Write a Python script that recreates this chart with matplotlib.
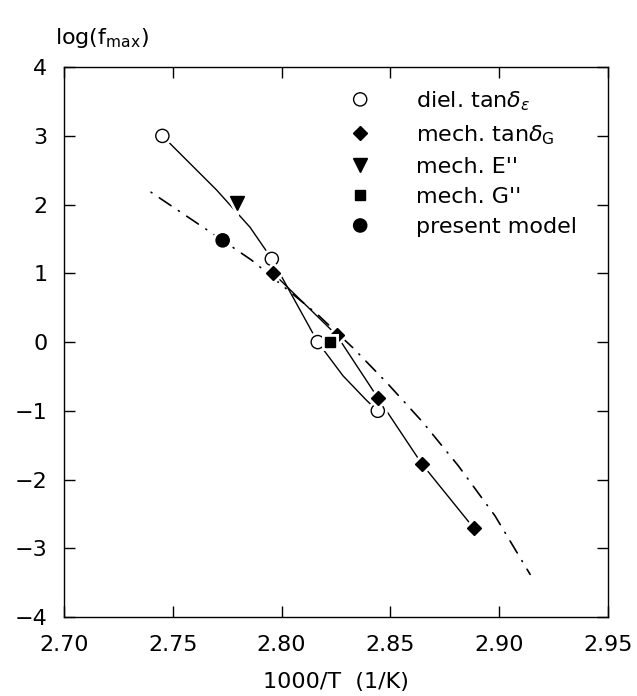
import numpy as np
import matplotlib
matplotlib.use("Agg")
import matplotlib.pyplot as plt
from matplotlib import patheffects as pe
from matplotlib.ticker import FormatStrFormatter, MultipleLocator

# data (x = 1000/T in 1/K, y = log f_max)
diel_x = [2.7452, 2.7955, 2.8166, 2.8442]
diel_y = [3.0, 1.21, 0.0, -1.0]

mech_tan_x = [2.7962, 2.8253, 2.8442, 2.8644, 2.8884]
mech_tan_y = [1.0, 0.1, -0.81, -1.77, -2.71]

mech_E_x = [2.7794]
mech_E_y = [2.02]

mech_G_x = [2.8222]
mech_G_y = [0.0]

model_pt_x = [2.7729]
model_pt_y = [1.48]

# hand drawn curve through the dielectric points
diel_curve_x = [2.7452, 2.7702, 2.7855, 2.7955, 2.8166, 2.8282, 2.8391, 2.8442]
diel_curve_y = [3.0, 2.21, 1.67, 1.21, 0.0, -0.49, -0.85, -1.0]

# model curve (dash-dot)
model_x = [2.7400, 2.7729, 2.7863, 2.8012, 2.8169, 2.8330, 2.8486,
           2.8647, 2.8812, 2.8981, 2.9142]
model_y = [2.18, 1.48, 1.19, 0.80, 0.39, -0.09, -0.60,
           -1.16, -1.80, -2.53, -3.38]

fig = plt.figure(figsize=(6.37, 6.96), dpi=100)
ax = fig.add_axes([0.1005, 0.1135, 0.854, 0.790])

halo = [pe.withStroke(linewidth=5, foreground="white")]

# lines
ax.plot(diel_curve_x, diel_curve_y, color="black", lw=1.0)
ax.plot(mech_tan_x, mech_tan_y, color="black", lw=1.0)
ax.plot(model_x, model_y, color="black", lw=1.2,
        linestyle=(0, (0.6, 5.4, 8.4, 5.4)), dash_capstyle="round")

# markers
ax.plot(diel_x, diel_y, "o", ms=9.5, mfc="white", mec="black", mew=1.0,
        path_effects=halo, label=r"diel. tan$\delta_\varepsilon$")
ax.plot(mech_tan_x, mech_tan_y, "D", ms=7, color="black",
        path_effects=halo, label=r"mech. tan$\delta_{\rm G}$")
ax.plot(mech_E_x, mech_E_y, "v", ms=10, color="black",
        path_effects=halo, label="mech. E''")
ax.plot(mech_G_x, mech_G_y, "s", ms=7.5, color="black",
        path_effects=halo, label="mech. G''")
ax.plot(model_pt_x, model_pt_y, "o", ms=9.5, color="black",
        path_effects=halo, label="present model")

ax.set_xlim(2.70, 2.95)
ax.set_ylim(-4, 4)
ax.xaxis.set_major_locator(MultipleLocator(0.05))
ax.xaxis.set_major_formatter(FormatStrFormatter("%.2f"))
ax.yaxis.set_major_locator(MultipleLocator(1))

ax.tick_params(direction="in", length=8, width=1, labelsize=16,
               top=True, right=True)
ax.tick_params(axis="x", pad=13)
ax.tick_params(axis="y", pad=12)
for s in ax.spines.values():
    s.set_linewidth(1.0)

ax.set_xlabel("1000/T  (1/K)", fontsize=16, labelpad=12)
ax.text(-0.017, 1.042, r"log(f$_{\rm max}$)", transform=ax.transAxes,
        fontsize=16, ha="left", va="baseline")

ax.legend(loc="upper left", bbox_to_anchor=(0.524, 0.96), frameon=False,
          fontsize=16, handlelength=1.0, handletextpad=2.0,
          labelspacing=0.46, borderpad=0, borderaxespad=0)

fig.savefig("out.png", dpi=100)
